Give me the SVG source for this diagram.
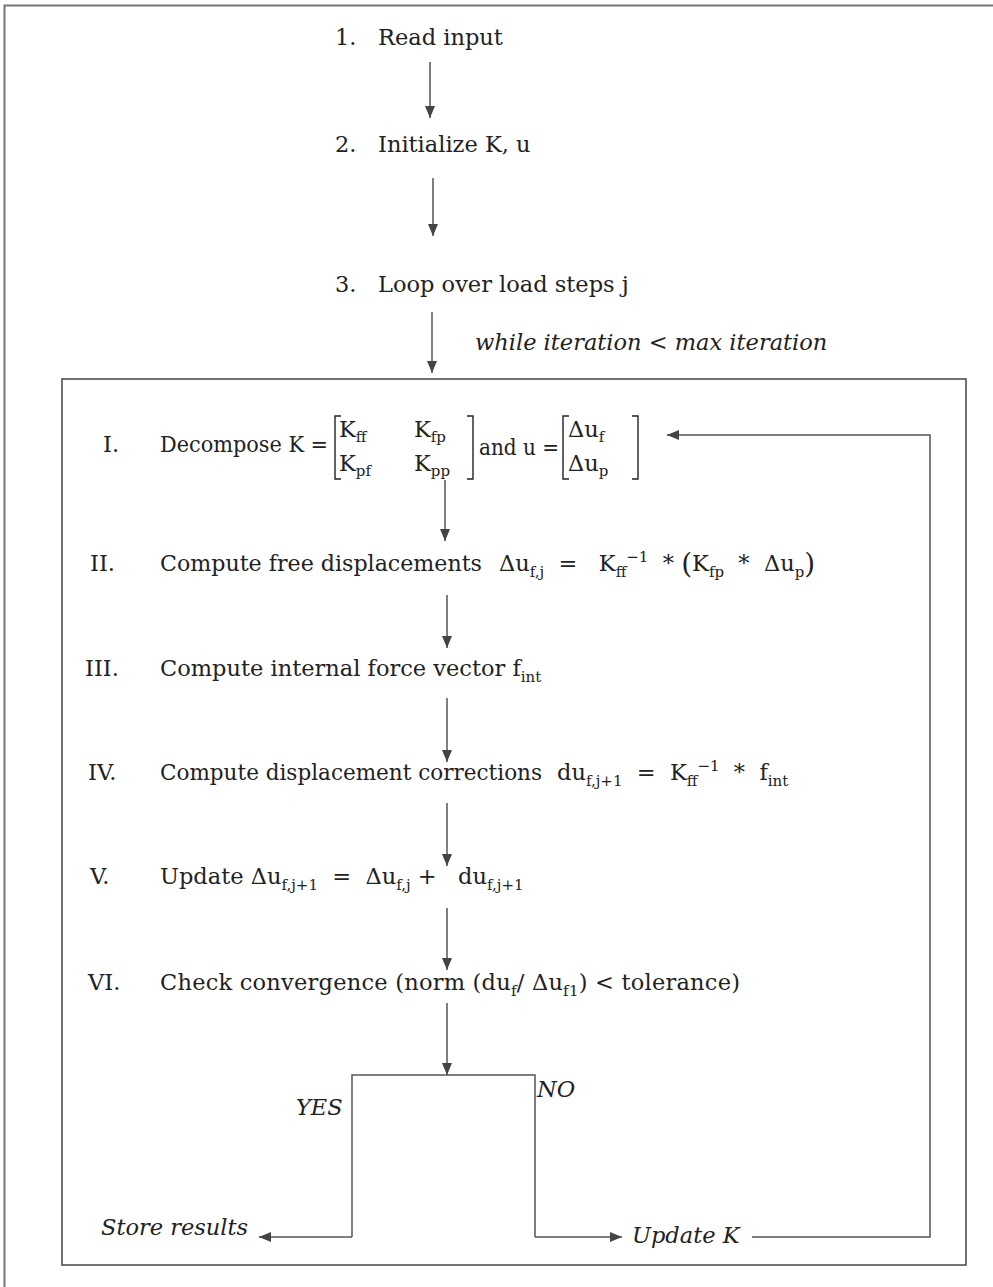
<svg xmlns="http://www.w3.org/2000/svg" width="993" height="1287" viewBox="0 0 993 1287">
  <style>
    text { font-family: "DejaVu Serif", "Liberation Serif", serif; font-size: 22.5px; fill: #222; }
    .it { font-style: italic; }
    .sb { font-size: 15px; }
    .ln { fill: none; stroke: #555; stroke-width: 1.5; }
    .br { fill: none; stroke: #222; stroke-width: 1.4; }
  </style>
  <defs>
    <marker id="ah" viewBox="0 0 12 10" refX="12" refY="5" markerWidth="12" markerHeight="10" markerUnits="userSpaceOnUse" orient="auto">
      <path d="M0,0 L12,5 L0,10 Z" fill="#444"/>
    </marker>
  </defs>

  <rect width="993" height="1287" fill="#fff"/>
  <!-- page frame (only top and left edges fall inside the page) -->
  <rect x="4.5" y="5.5" width="1000" height="1300" fill="none" stroke="#777" stroke-width="2"/>
  <!-- iteration loop frame -->
  <rect id="loop-frame" x="62" y="379" width="904" height="886" fill="none" stroke="#444" stroke-width="1.5"/>

  <g id="step1"><text x="335" y="45">1.</text><text x="378" y="45">Read input</text></g>
  <g id="step2"><text x="335" y="152">2.</text><text x="378" y="152">Initialize K, u</text></g>
  <g id="step3"><text x="335" y="292">3.</text><text x="378" y="292">Loop over load steps j</text></g>
  <g id="while-label"><text class="it" x="475" y="350">while iteration &lt; max iteration</text></g>

  <g id="stepI">
    <text x="103" y="452">I.</text>
    <text x="160" y="452" textLength="168" lengthAdjust="spacingAndGlyphs">Decompose K =</text>
    <path class="br" d="M341,416 H335 V479 H341 M467,416 H473 V479 H467"/>
    <text x="339" y="437">K<tspan class="sb" dy="5">ff</tspan></text>
    <text x="414" y="437">K<tspan class="sb" dy="5">fp</tspan></text>
    <text x="339" y="471">K<tspan class="sb" dy="5">pf</tspan></text>
    <text x="414" y="471">K<tspan class="sb" dy="5">pp</tspan></text>
    <text x="479" y="455" textLength="80" lengthAdjust="spacingAndGlyphs">and u =</text>
    <path class="br" d="M569,416 H563 V479 H569 M632,416 H638 V479 H632"/>
    <text x="568" y="437">Δu<tspan class="sb" dy="5">f</tspan></text>
    <text x="568" y="471">Δu<tspan class="sb" dy="5">p</tspan></text>
  </g>

  <g id="stepII">
    <text x="90" y="571">II.</text>
    <text x="160" y="571" textLength="322" lengthAdjust="spacingAndGlyphs">Compute free displacements</text>
    <text x="499" y="571">Δu<tspan class="sb" dy="6">f,j</tspan><tspan dy="-6">&#160;&#160;=&#160;&#160;&#160;K</tspan><tspan class="sb" dy="6">ff</tspan><tspan class="sb" dy="-15">−1</tspan><tspan dy="9">&#160;&#160;*&#160;</tspan><tspan font-size="28" dy="2">(</tspan><tspan dy="-2">K</tspan><tspan class="sb" dy="6">fp</tspan><tspan dy="-6">&#160;&#160;*&#160;&#160;Δu</tspan><tspan class="sb" dy="6">p</tspan><tspan font-size="28" dy="-4">)</tspan></text>
  </g>

  <g id="stepIII">
    <text x="85" y="676">III.</text>
    <text x="160" y="676">Compute internal force vector f<tspan class="sb" dy="6">int</tspan></text>
  </g>

  <g id="stepIV">
    <text x="88" y="780">IV.</text>
    <text x="160" y="780" textLength="382" lengthAdjust="spacingAndGlyphs">Compute displacement corrections</text>
    <text x="557" y="780">du<tspan class="sb" dy="6">f,j+1</tspan><tspan dy="-6">&#160;&#160;=&#160;&#160;K</tspan><tspan class="sb" dy="6">ff</tspan><tspan class="sb" dy="-15">−1</tspan><tspan dy="9">&#160;&#160;*&#160;&#160;f</tspan><tspan class="sb" dy="6">int</tspan></text>
  </g>

  <g id="stepV">
    <text x="90" y="884">V.</text>
    <text x="160" y="884">Update Δu<tspan class="sb" dy="6">f,j+1</tspan><tspan dy="-6">&#160;&#160;=&#160;&#160;Δu</tspan><tspan class="sb" dy="6">f,j</tspan><tspan dy="-6">&#160;+&#160;&#160;&#160;du</tspan><tspan class="sb" dy="6">f,j+1</tspan></text>
  </g>

  <g id="stepVI">
    <text x="88" y="990">VI.</text>
    <text x="160" y="990" textLength="580">Check convergence (norm (du<tspan class="sb" dy="6">f</tspan><tspan dy="-6">/ Δu</tspan><tspan class="sb" dy="6">f1</tspan><tspan dy="-6">) &lt; tolerance)</tspan></text>
  </g>

  <g id="yes-label"><text class="it" x="296" y="1115">YES</text></g>
  <g id="no-label"><text class="it" x="537" y="1097">NO</text></g>
  <g id="store-results"><text class="it" x="101" y="1235">Store results</text></g>
  <g id="update-k"><text class="it" x="632" y="1243">Update K</text></g>

  <g id="connectors">
    <line class="ln" x1="430" y1="62" x2="430" y2="118" marker-end="url(#ah)"/>
    <line class="ln" x1="433" y1="178" x2="433" y2="236" marker-end="url(#ah)"/>
    <line class="ln" x1="432" y1="312" x2="432" y2="373" marker-end="url(#ah)"/>
    <line class="ln" x1="445" y1="480" x2="445" y2="541" marker-end="url(#ah)"/>
    <line class="ln" x1="447" y1="595" x2="447" y2="648" marker-end="url(#ah)"/>
    <line class="ln" x1="447" y1="698" x2="447" y2="762" marker-end="url(#ah)"/>
    <line class="ln" x1="447" y1="803" x2="447" y2="866" marker-end="url(#ah)"/>
    <line class="ln" x1="447" y1="908" x2="447" y2="970" marker-end="url(#ah)"/>
    <line class="ln" x1="447" y1="1003" x2="447" y2="1075" marker-end="url(#ah)"/>
    <!-- convergence branch -->
    <polyline class="ln" points="352,1237 352,1075 535,1075 535,1237"/>
    <line class="ln" x1="352" y1="1237" x2="259" y2="1237" marker-end="url(#ah)"/>
    <line class="ln" x1="535" y1="1237" x2="622" y2="1237" marker-end="url(#ah)"/>
    <!-- return to decomposition -->
    <polyline class="ln" points="752,1237 930,1237 930,435 667,435" marker-end="url(#ah)"/>
  </g>
</svg>
